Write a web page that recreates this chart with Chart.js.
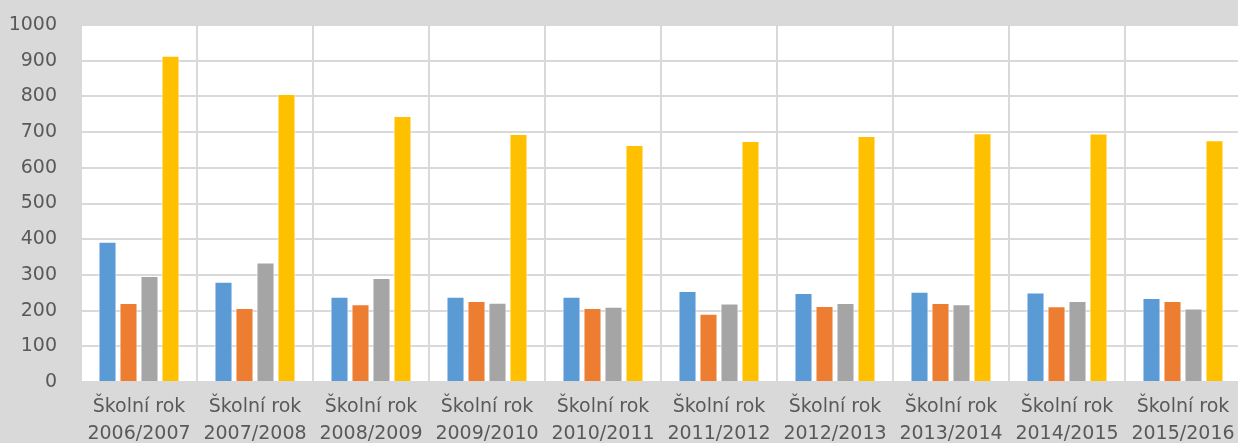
<!DOCTYPE html>
<html>
<head>
<meta charset="utf-8">
<script src="https://cdn.jsdelivr.net/npm/chart.js@4"></script>
<style>
  html, body { margin: 0; padding: 0; overflow: hidden; background: #d9d9d9; }
  #wrap { width: 1241px; height: 443px; position: relative; }
</style>
</head>
<body>
<div id="wrap"><canvas id="barChart"></canvas></div>
<script>
// data
const labels = [
  ["Školní rok", "2006/2007"], ["Školní rok", "2007/2008"], ["Školní rok", "2008/2009"],
  ["Školní rok", "2009/2010"], ["Školní rok", "2010/2011"], ["Školní rok", "2011/2012"],
  ["Školní rok", "2012/2013"], ["Školní rok", "2013/2014"], ["Školní rok", "2014/2015"],
  ["Školní rok", "2015/2016"]
];
const seriesBlue   = [393, 281, 239, 239, 239, 255, 249, 253, 251, 235];
const seriesOrange = [221, 207, 218, 227, 207, 191, 213, 221, 212, 227];
const seriesGray   = [297, 335, 291, 222, 211, 220, 221, 218, 227, 206];
const seriesYellow = [914, 807, 745, 695, 664, 675, 689, 697, 696, 677];
const yTicks = [0, 100, 200, 300, 400, 500, 600, 700, 800, 900, 1000];

const colors = ["#5B9BD5", "#ED7D31", "#A5A5A5", "#FFC000"];

document.addEventListener("DOMContentLoaded", function () {
  const ctx = document.getElementById("barChart").getContext("2d");

  // bílá plocha grafu
  const plotBg = {
    id: "plotBg",
    beforeDraw(chart) {
      const { ctx, chartArea } = chart;
      ctx.save();
      ctx.fillStyle = "#ffffff";
      ctx.fillRect(chartArea.left, chartArea.top, chartArea.right - chartArea.left, chartArea.bottom - chartArea.top);
      ctx.restore();
    }
  };

  const mk = (data, i) => ({
    data: data,
    backgroundColor: colors[i],
    borderColor: "#ffffff",
    borderWidth: 1,
    categoryPercentage: 0.724,
    barPercentage: 0.86
  });

  new Chart(ctx, {
    type: "bar",
    data: {
      labels: labels,
      datasets: [mk(seriesBlue, 0), mk(seriesOrange, 1), mk(seriesGray, 2), mk(seriesYellow, 3)]
    },
    options: {
      responsive: true,
      maintainAspectRatio: false,
      animation: false,
      layout: { padding: { top: 25, left: 0, right: 0, bottom: 0 } },
      plugins: { legend: { display: false }, tooltip: { enabled: false } },
      scales: {
        x: {
          grid: { color: "#d9d9d9", lineWidth: 2, offset: true, drawTicks: false },
          border: { display: false },
          ticks: {
            color: "#595959",
            font: { family: "DejaVu Sans", size: 19, lineHeight: 1.42 },
            padding: 12,
            maxRotation: 0,
            autoSkip: false
          },
          afterFit(scale) {
            scale.height = 61;
            scale.paddingLeft = 0;
            scale.paddingRight = 0;
          }
        },
        y: {
          min: 0,
          max: 1000,
          afterBuildTicks(scale) { scale.ticks = yTicks.map(v => ({ value: v })); },
          grid: { color: "#d9d9d9", lineWidth: 2, drawTicks: false },
          border: { display: false },
          ticks: {
            color: "#595959",
            font: { family: "DejaVu Sans", size: 19 },
            padding: 24,
            callback: (v) => String(v)
          },
          afterFit(scale) {
            scale.width = 81;
            scale.paddingTop = 0;
            scale.paddingBottom = 0;
          }
        }
      }
    },
    plugins: [plotBg]
  });
});
</script>
</body>
</html>
